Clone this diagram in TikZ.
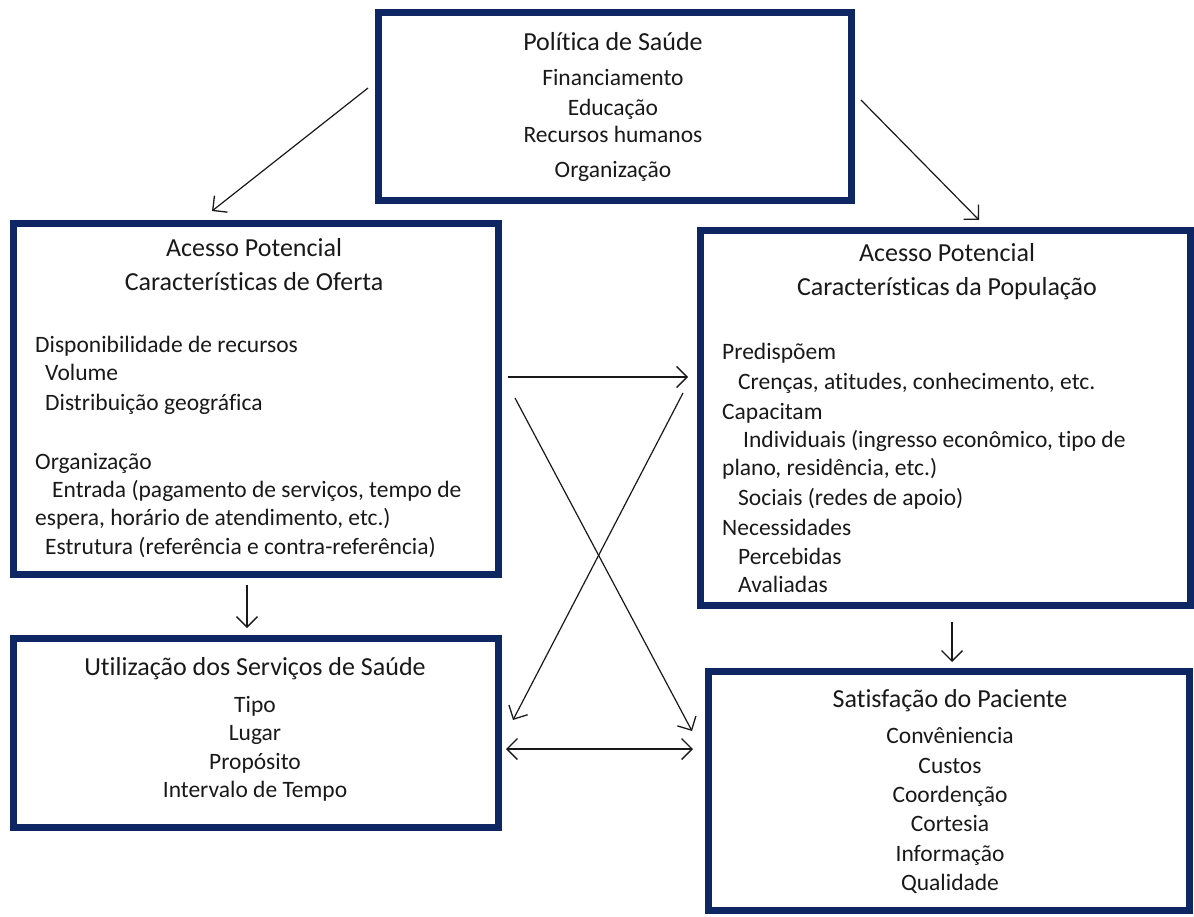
\documentclass[tikz,border=0pt]{standalone}
\usepackage{fontspec}
\setmainfont{Carlito}[Ligatures={NoCommon}]
\usetikzlibrary{arrows.meta}
\definecolor{navy}{RGB}{14,38,98}
\definecolor{ink}{RGB}{25,25,25}
\begin{document}
\begin{tikzpicture}[x=1pt,y=-1pt,
  box/.style={draw=navy,line width=7pt,fill=white,inner sep=0pt},
  ttl/.style={font=\fontsize{26}{30}\selectfont,text=ink,anchor=base,inner sep=0pt},
  itm/.style={font=\fontsize{23.5}{29}\selectfont,text=ink,anchor=base,inner sep=0pt},
  itmL/.style={itm,anchor=base west},
  arr/.style={draw=ink,line width=1.2pt,-{Straight Barb[length=10.5pt,width=21pt,line width=1.3pt]}},
  darr/.style={draw=ink,line width=1.2pt,{Straight Barb[length=10.5pt,width=21pt,line width=1.3pt]}-{Straight Barb[length=10.5pt,width=21pt,line width=1.3pt]}}
]
\useasboundingbox (0,0) rectangle (1194,916);
\fill[white] (0,0) rectangle (1194,916);

% boxes
\node[box,minimum width=473pt,minimum height=188.5pt] (politica) at (615,106.25) {};
\node[box,minimum width=485pt,minimum height=351pt] (oferta) at (256,399) {};
\node[box,minimum width=490pt,minimum height=375pt] (populacao) at (945.5,418) {};
\node[box,minimum width=485pt,minimum height=189pt] (utilizacao) at (256,733) {};
\node[box,minimum width=481pt,minimum height=239pt] (satisfacao) at (949,791) {};

% Politica de Saude
\node[ttl] (p0) at (613,50) {Política de Saúde};
\node[itm] (p1) at (613,85) {Financiamento};
\node[itm] (p2) at (613,115) {Educação};
\node[itm] (p3) at (613,142) {Recursos humanos};
\node[itm] (p4) at (613,177) {Organização};

% Oferta
\node[ttl] (o0) at (254,256) {Acesso Potencial};
\node[ttl] (o00) at (254,290) {Características de Oferta};
\node[itmL] (o1) at (35,352) {Disponibilidade de recursos};
\node[itmL] (o2) at (45,380) {Volume};
\node[itmL] (o3) at (45,410) {Distribuição geográfica};
\node[itmL] (o4) at (35,469) {Organização};
\node[itmL] (o5) at (52,497) {Entrada (pagamento de serviços, tempo de};
\node[itmL] (o6) at (35,525) {espera, horário de atendimento, etc.)};
\node[itmL] (o7) at (45,554) {Estrutura (referência e contra-referência)};

% Populacao
\node[ttl] (q0) at (947,261) {Acesso Potencial};
\node[ttl] (q00) at (947,295) {Características da População};
\node[itmL] (q1) at (722,359) {Predispõem};
\node[itmL] (q2) at (738,389) {Crenças, atitudes, conhecimento, etc.};
\node[itmL] (q3) at (722,419) {Capacitam};
\node[itmL] (q4) at (743,447) {Individuais (ingresso econômico, tipo de};
\node[itmL] (q5) at (722,475) {plano, residência, etc.)};
\node[itmL] (q6) at (738,505) {Sociais (redes de apoio)};
\node[itmL] (q7) at (722,535) {Necessidades};
\node[itmL] (q8) at (738,564) {Percebidas};
\node[itmL] (q9) at (738,592) {Avaliadas};

% Utilizacao
\node[ttl] (u0) at (255,675) {Utilização dos Serviços de Saúde};
\node[itm] (u1) at (255,712) {Tipo};
\node[itm] (u2) at (255,740) {Lugar};
\node[itm] (u3) at (255,769) {Propósito};
\node[itm] (u4) at (255,797) {Intervalo de Tempo};

% Satisfacao
\node[ttl] (s0) at (950,707) {Satisfação do Paciente};
\node[itm] (s1) at (950,743) {Convêniencia};
\node[itm] (s2) at (950,773) {Custos};
\node[itm] (s3) at (950,802) {Coordenção};
\node[itm] (s4) at (950,831) {Cortesia};
\node[itm] (s5) at (950,861) {Informação};
\node[itm] (s6) at (950,890) {Qualidade};

% connector end points
\coordinate (a1s) at (368,88);
\coordinate (a1e) at (212,211);
\coordinate (a2s) at (861,100);
\coordinate (a2e) at (979,220);
\coordinate (h1s) at (508,377);
\coordinate (h1e) at (688,377);
\coordinate (x1s) at (515,398);
\coordinate (x1e) at (692,731);
\coordinate (x2s) at (683,393);
\coordinate (x2e) at (513,720);
\coordinate (h2s) at (506,749);
\coordinate (h2e) at (693,749);
\coordinate (d1s) at (247,585);
\coordinate (d1e) at (247,628);
\coordinate (d2s) at (952,622);
\coordinate (d2e) at (952,662);

\draw[arr] (a1s) -- (a1e);
\draw[arr] (a2s) -- (a2e);
\draw[arr] (h1s) -- (h1e);
\draw[arr] (x1s) -- (x1e);
\draw[arr] (x2s) -- (x2e);
\draw[darr] (h2s) -- (h2e);
\draw[arr] (d1s) -- (d1e);
\draw[arr] (d2s) -- (d2e);
\end{tikzpicture}
\end{document}
